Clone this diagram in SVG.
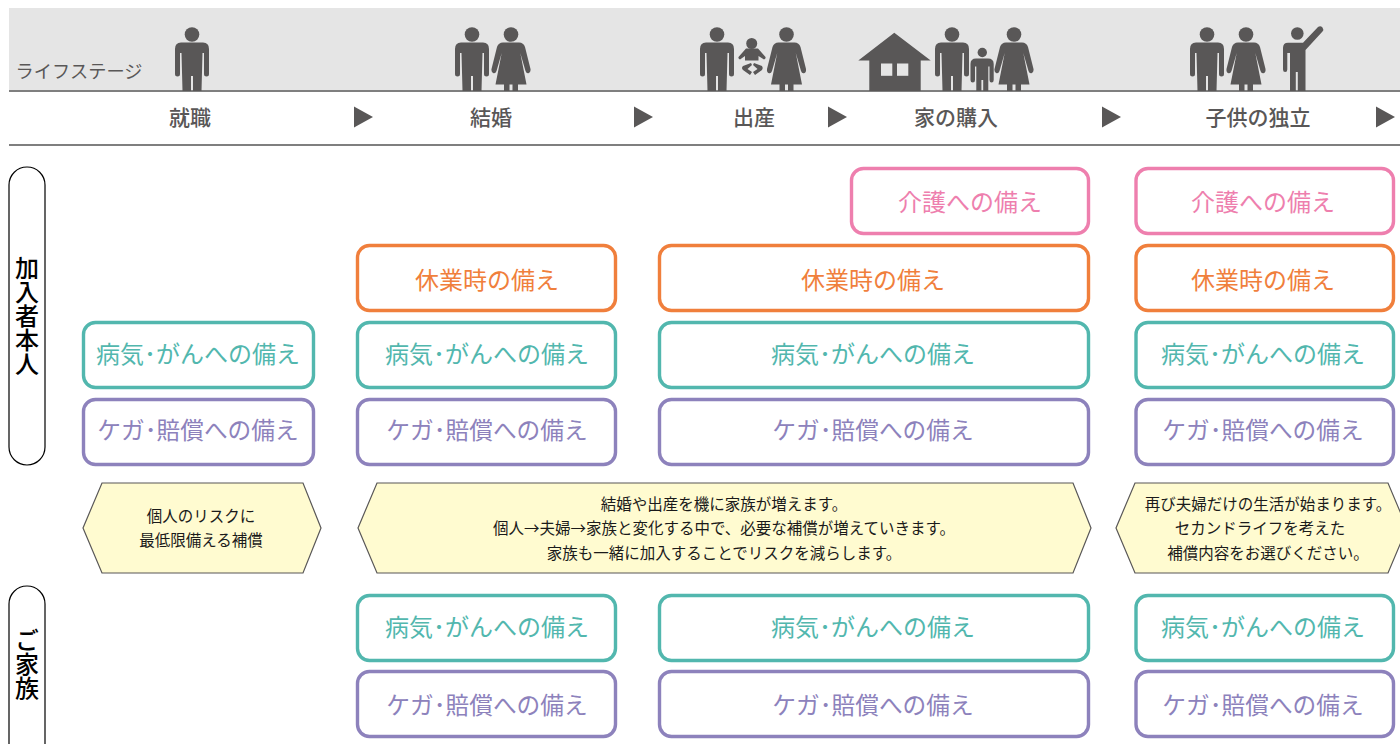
<svg xmlns="http://www.w3.org/2000/svg" width="1400" height="744" viewBox="0 0 1400 744">
<style>
text{font-family:"Noto Sans CJK JP","Noto Sans",sans-serif;text-anchor:middle}
.b{fill:#fff;stroke-width:3.400}
.lb{font-size:24px}
.pk rect{stroke:#ee7fae}.pk text{fill:#ee7fae}
.or rect{stroke:#f07f3c}.or text{fill:#f07f3c}
.te rect{stroke:#52b7ae}.te text{fill:#52b7ae}
.pu rect{stroke:#8d82bc}.pu text{fill:#8d82bc;font-size:23.700px}
.st{font-size:21px;font-weight:500;fill:#595757}
.ic{fill:#595757}
.rule{stroke:#7f7f7f;stroke-width:2;fill:none}
.hex{fill:#fffbd0;stroke:#595757;stroke-width:1.200}
.note{font-size:15.500px;fill:#1a1a1a}
.pill{fill:#fff;stroke:#000;stroke-width:1.200}
.pt{font-size:24px;font-weight:500;fill:#000;writing-mode:vertical-rl}
</style>
<defs>
<symbol id="man" overflow="visible"><circle cx="0" cy="34.500" r="7.300"/><path d="M-11 42.500H11Q17 42.500 17 49V74Q17 76.500 14.500 76.500Q12 76.500 12 74V53H10.500L9.500 91H1V76H-1V91H-9.500L-10.500 53H-12V74Q-12 76.500-14.500 76.500Q-17 76.500-17 74V49Q-17 42.500-11 42.500Z"/></symbol>
<symbol id="woman" overflow="visible"><circle cx="0" cy="34.500" r="7.300"/><path d="M-8 42.500H8Q12.500 42.500 14 47L19.500 69Q20 72.500 17.500 73.200Q15.500 73.800 14.500 71L9.300 53 15.500 84.500H7V91H1.500V84.500H-1.500V91H-7V84.500H-15.500L-9.300 53-14.500 71Q-15.500 73.800-17.500 73.200Q-20 72.500-19.500 69L-14 47Q-12.500 42.500-8 42.500Z"/></symbol>
<symbol id="tri" overflow="visible"><path d="M-9-10.500 10 0-9 10.500Z"/></symbol>
</defs>

<g id="header">
<rect x="9" y="8" width="1391" height="83" fill="#e5e5e5"/>
<text x="79" y="78" font-size="18.200" fill="#595757">ライフステージ</text>
<path class="rule" d="M9 91H1400M9 145H1400"/>
</g>

<g id="stage-1" class="ic"><use href="#man" x="192"/><text class="st" x="190" y="124.500">就職</text></g>
<g id="stage-2" class="ic"><use href="#man" x="472"/><use href="#woman" x="511"/><text class="st" x="491" y="124.500">結婚</text></g>
<g id="stage-3" class="ic"><use href="#man" x="717"/>
<circle cx="751.700" cy="43.500" r="5.500"/><path d="M746 48.500H758L765.500 57Q766 59 764 59.500L758.500 56V60.500H745V56L740 59.500Q738 59 738.500 57Z"/><path d="M751 63 743 66Q741 68 743 70L750 75 752 72 747.500 69 752 65ZM754 63 762 66Q763.500 68 762 70L755 75 753 72 757.500 69 753 65Z"/>
<use href="#woman" x="786.500"/><text class="st" x="754" y="124.500">出産</text></g>
<g id="stage-4" class="ic"><path d="M858.300 60.500 894.300 32.700 930.700 60.500H920.700V91H869.300V60.500Z"/><rect x="881" y="63.500" width="11.300" height="12.300" fill="#e5e5e5"/><rect x="897" y="63.500" width="11.300" height="12.300" fill="#e5e5e5"/>
<use href="#man" x="952"/><circle cx="982.300" cy="52.500" r="4.700"/><path d="M976 58.500H988Q993.700 58.500 993.700 64V80Q993.700 82.500 991.500 82.500Q989.500 82.500 989.500 80V66.500H988.300V91H983.200V80H981.400V91H976.300V66.500H975V80Q975 82.500 972.800 82.500Q970.500 82.500 970.500 80V64Q970.500 58.500 976 58.500Z"/>
<use href="#woman" x="1014"/><text class="st" x="956" y="124.500">家の購入</text></g>
<g id="stage-5" class="ic"><use href="#man" x="1207"/><use href="#woman" x="1246"/>
<circle cx="1297.300" cy="33.500" r="6.300"/><path d="M1288 42.700H1303L1318 27Q1320.500 25.500 1322.500 27.500Q1324 29.500 1322.500 31.500L1305.500 50V91H1297.800V72H1295.800V91H1290V53H1287.300V69.500Q1287.300 72 1285.200 72Q1283 72 1283 69.500V48Q1283 42.700 1288 42.700Z"/>
<text class="st" x="1258" y="124.500">子供の独立</text></g>

<g id="arrows" class="ic"><use href="#tri" x="363" y="117"/><use href="#tri" x="643" y="117"/><use href="#tri" x="837" y="117"/><use href="#tri" x="1111" y="117"/><use href="#tri" x="1385" y="117"/></g>

<g id="group-self"><rect class="pill" x="9" y="167" width="36" height="298" rx="18"/><text class="pt" x="27" y="316">加入者本人</text></g>
<g id="group-family"><rect class="pill" x="9" y="586" width="36" height="180" rx="18"/><text class="pt" x="27" y="664">ご家族</text></g>

<g id="care-1" class="pk"><rect class="b" x="851.500" y="168.500" width="237" height="65" rx="12"/><text class="lb" x="970" y="210.500">介護への備え</text></g>
<g id="care-2" class="pk"><rect class="b" x="1136" y="168.500" width="257.500" height="65" rx="12"/><text class="lb" x="1263" y="210.500">介護への備え</text></g>

<g id="leave-1" class="or"><rect class="b" x="357.500" y="245.500" width="258" height="65" rx="12"/><text class="lb" x="487" y="288.500">休業時の備え</text></g>
<g id="leave-2" class="or"><rect class="b" x="659.500" y="245.500" width="429" height="65" rx="12"/><text class="lb" x="873" y="288.500">休業時の備え</text></g>
<g id="leave-3" class="or"><rect class="b" x="1136" y="245.500" width="257.500" height="65" rx="12"/><text class="lb" x="1263" y="288.500">休業時の備え</text></g>

<g id="ill-1" class="te"><rect class="b" x="83.500" y="322.500" width="230" height="65" rx="12"/><text class="lb" x="198" y="363">病気･がんへの備え</text></g>
<g id="ill-2" class="te"><rect class="b" x="357.500" y="322.500" width="258" height="65" rx="12"/><text class="lb" x="487" y="363">病気･がんへの備え</text></g>
<g id="ill-3" class="te"><rect class="b" x="659.500" y="322.500" width="429" height="65" rx="12"/><text class="lb" x="873" y="363">病気･がんへの備え</text></g>
<g id="ill-4" class="te"><rect class="b" x="1136" y="322.500" width="257.500" height="65" rx="12"/><text class="lb" x="1263" y="363">病気･がんへの備え</text></g>

<g id="inj-1" class="pu"><rect class="b" x="83.500" y="399.500" width="230" height="65" rx="12"/><text class="lb" x="198" y="439">ケガ･賠償への備え</text></g>
<g id="inj-2" class="pu"><rect class="b" x="357.500" y="399.500" width="258" height="65" rx="12"/><text class="lb" x="487" y="439">ケガ･賠償への備え</text></g>
<g id="inj-3" class="pu"><rect class="b" x="659.500" y="399.500" width="429" height="65" rx="12"/><text class="lb" x="873" y="439">ケガ･賠償への備え</text></g>
<g id="inj-4" class="pu"><rect class="b" x="1136" y="399.500" width="257.500" height="65" rx="12"/><text class="lb" x="1263" y="439">ケガ･賠償への備え</text></g>

<g id="note-1"><path class="hex" d="M83 528 102 483H303L321 528 303 573H102Z"/><text class="note" x="201" y="521.500">個人のリスクに</text><text class="note" x="201" y="545.500">最低限備える補償</text></g>
<g id="note-2"><path class="hex" d="M358 528 377 483H1073L1091 528 1073 573H377Z"/><text class="note" x="724" y="509.500">結婚や出産を機に家族が増えます。</text><text class="note" x="724" y="533.500">個人→夫婦→家族と変化する中で、必要な補償が増えていきます。</text><text class="note" x="724" y="558.500">家族も一緒に加入することでリスクを減らします。</text></g>
<g id="note-3"><path class="hex" d="M1116 528 1135 483H1388L1407 528 1388 573H1135Z"/><text class="note" x="1268" y="509.500">再び夫婦だけの生活が始まります。</text><text class="note" x="1260" y="533.500">セカンドライフを考えた</text><text class="note" x="1268" y="558.500">補償内容をお選びください。</text></g>

<g id="fam-ill-1" class="te"><rect class="b" x="357.500" y="595.500" width="258" height="65" rx="12"/><text class="lb" x="487" y="636">病気･がんへの備え</text></g>
<g id="fam-ill-2" class="te"><rect class="b" x="659.500" y="595.500" width="429" height="65" rx="12"/><text class="lb" x="873" y="636">病気･がんへの備え</text></g>
<g id="fam-ill-3" class="te"><rect class="b" x="1136" y="595.500" width="257.500" height="65" rx="12"/><text class="lb" x="1263" y="636">病気･がんへの備え</text></g>

<g id="fam-inj-1" class="pu"><rect class="b" x="357.500" y="671.500" width="258" height="65" rx="12"/><text class="lb" x="487" y="714">ケガ･賠償への備え</text></g>
<g id="fam-inj-2" class="pu"><rect class="b" x="659.500" y="671.500" width="429" height="65" rx="12"/><text class="lb" x="873" y="714">ケガ･賠償への備え</text></g>
<g id="fam-inj-3" class="pu"><rect class="b" x="1136" y="671.500" width="257.500" height="65" rx="12"/><text class="lb" x="1263" y="714">ケガ･賠償への備え</text></g>
</svg>
